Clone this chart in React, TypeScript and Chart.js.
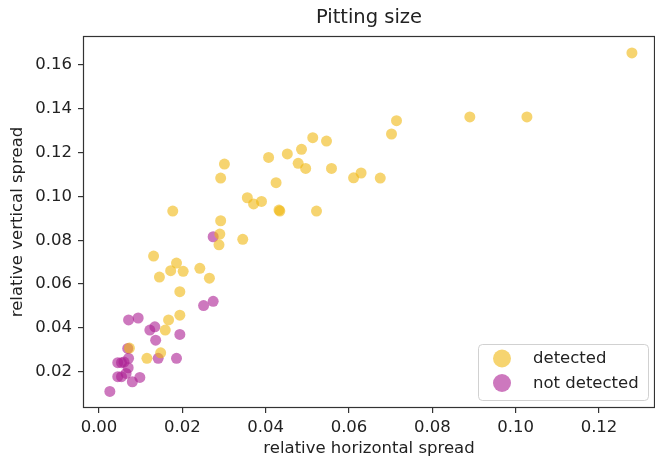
import React, { useEffect, useRef } from 'react';
import { Chart, registerables } from 'chart.js';

Chart.register(...registerables);

const chartTitle = 'Pitting size';
const xAxisTitle = 'relative horizontal spread';
const yAxisTitle = 'relative vertical spread';
const seriesLabels = ['detected', 'not detected'];

const detectedX = [
  0.1279, 0.1027, 0.0890, 0.0714, 0.0702, 0.0513, 0.0546, 0.0486, 0.0452, 0.0407,
  0.0478, 0.0496, 0.0558, 0.0611, 0.0629, 0.0675, 0.0425, 0.0356, 0.0371, 0.0390,
  0.0432, 0.0434, 0.0522, 0.0301, 0.0292, 0.0177, 0.0292, 0.0290, 0.0288, 0.0345,
  0.0131, 0.0186, 0.0172, 0.0202, 0.0145, 0.0242, 0.0265, 0.0194, 0.0194, 0.0167,
  0.0159, 0.0073, 0.0148, 0.0115,
];
const detectedY = [
  0.1655, 0.1363, 0.1363, 0.1346, 0.1285, 0.1268, 0.1253, 0.1215, 0.1194, 0.1178,
  0.1151, 0.1128, 0.1128, 0.1085, 0.1107, 0.1084, 0.1063, 0.0994, 0.0966, 0.0977,
  0.0938, 0.0933, 0.0933, 0.1148, 0.1084, 0.0933, 0.0889, 0.0828, 0.0779, 0.0804,
  0.0728, 0.0696, 0.0661, 0.0658, 0.0632, 0.0672, 0.0627, 0.0565, 0.0458, 0.0436,
  0.0390, 0.0308, 0.0286, 0.0261,
];

const notDetectedX = [
  0.0274, 0.0274, 0.0251, 0.0071, 0.0094, 0.0122, 0.0134, 0.0194, 0.0136, 0.0069,
  0.0071, 0.0142, 0.0186, 0.0045, 0.0054, 0.0060, 0.0070, 0.0065, 0.0045, 0.0054,
  0.0080, 0.0098, 0.0026,
];
const notDetectedY = [
  0.0816, 0.0521, 0.0502, 0.0436, 0.0445, 0.0390, 0.0405, 0.0370, 0.0344, 0.0306,
  0.0261, 0.0261, 0.0261, 0.0241, 0.0241, 0.0244, 0.0218, 0.0192, 0.0177, 0.0177,
  0.0154, 0.0174, 0.0110,
];

const xTicks = [0.0, 0.02, 0.04, 0.06, 0.08, 0.1, 0.12];
const yTicks = [0.02, 0.04, 0.06, 0.08, 0.1, 0.12, 0.14, 0.16];
const xRange = [-0.00384, 0.13344];
const yRange = [0.00342, 0.17324];

const FONT = 'DejaVu Sans';
const TEXT = '#222222';
const AXIS = '#333333';
const COLORS = ['rgba(240,183,17,0.6)', 'rgba(172,30,147,0.6)'];

const toPoints = (xs: number[], ys: number[]) => xs.map((x, i) => ({ x, y: ys[i] }));

const zeroPad = (s: any) => {
  s.paddingLeft = 0;
  s.paddingRight = 0;
  s.paddingTop = 0;
  s.paddingBottom = 0;
};

const framePlugin = {
  id: 'frameAndDecor',
  afterDraw(chart: any) {
    const { ctx, chartArea } = chart;
    const { left, right, top, bottom } = chartArea;
    ctx.save();
    // frame
    ctx.strokeStyle = AXIS;
    ctx.lineWidth = 1.2;
    ctx.strokeRect(left + 0.5, top + 0.5, right - left - 1, bottom - top - 1);
    // title
    ctx.fillStyle = TEXT;
    ctx.font = `19.5px "${FONT}"`;
    ctx.textAlign = 'center';
    ctx.textBaseline = 'middle';
    ctx.fillText(chartTitle, (left + right) / 2, 18);
    // legend
    const bw = 170;
    const bh = 56;
    const bx = right - 7 - bw;
    const by = bottom - 8 - bh;
    ctx.beginPath();
    ctx.roundRect(bx + 0.5, by + 0.5, bw, bh, 4);
    ctx.fillStyle = 'rgba(255,255,255,0.8)';
    ctx.fill();
    ctx.strokeStyle = 'rgba(204,204,204,0.9)';
    ctx.lineWidth = 1;
    ctx.stroke();
    const rows = [by + 14.5, by + 39];
    seriesLabels.forEach((lab, i) => {
      ctx.beginPath();
      ctx.arc(bx + 24, rows[i], 9, 0, Math.PI * 2);
      ctx.fillStyle = COLORS[i];
      ctx.fill();
      ctx.fillStyle = TEXT;
      ctx.font = `16.5px "${FONT}"`;
      ctx.textAlign = 'left';
      ctx.textBaseline = 'middle';
      ctx.fillText(lab, bx + 55, rows[i] + 0.5);
    });
    ctx.restore();
  },
};

export default function App() {
  const ref = useRef<HTMLCanvasElement | null>(null);

  useEffect(() => {
    if (!ref.current) return;
    const chart = new Chart(ref.current, {
      type: 'scatter',
      data: {
        datasets: [
          {
            label: seriesLabels[0],
            data: toPoints(detectedX, detectedY),
            backgroundColor: COLORS[0],
            borderWidth: 0,
            pointRadius: 5.5,
          },
          {
            label: seriesLabels[1],
            data: toPoints(notDetectedX, notDetectedY),
            backgroundColor: COLORS[1],
            borderWidth: 0,
            pointRadius: 5.5,
          },
        ],
      },
      options: {
        animation: false,
        responsive: false,
        devicePixelRatio: 1,
        events: [],
        layout: { autoPadding: false, padding: { top: 36, right: 0, left: 0, bottom: 0 } },
        plugins: {
          legend: { display: false },
          title: { display: false },
          tooltip: { enabled: false },
        },
        scales: {
          x: {
            type: 'linear',
            min: xRange[0],
            max: xRange[1],
            afterBuildTicks: (s: any) => {
              s.ticks = xTicks.map((v) => ({ value: v }));
            },
            afterFit: (s: any) => {
              s.height = 51;
              zeroPad(s);
            },
            border: { display: false },
            grid: {
              display: true,
              drawOnChartArea: false,
              drawTicks: true,
              tickLength: 5,
              color: AXIS,
              lineWidth: 1.2,
            },
            ticks: {
              padding: 5,
              color: TEXT,
              font: { family: FONT, size: 16.5 },
              maxRotation: 0,
              callback: (v: any) => Number(v).toFixed(2),
            },
            title: {
              display: true,
              text: xAxisTitle,
              color: TEXT,
              font: { family: FONT, size: 16.5 },
              padding: { top: 0, bottom: 0 },
            },
          },
          y: {
            type: 'linear',
            min: yRange[0],
            max: yRange[1],
            afterBuildTicks: (s: any) => {
              s.ticks = yTicks.map((v) => ({ value: v }));
            },
            afterFit: (s: any) => {
              s.width = 83;
              zeroPad(s);
            },
            border: { display: false },
            grid: {
              display: true,
              drawOnChartArea: false,
              drawTicks: true,
              tickLength: 5,
              color: AXIS,
              lineWidth: 1.2,
            },
            ticks: {
              padding: 6,
              color: TEXT,
              font: { family: FONT, size: 16.5 },
              callback: (v: any) => Number(v).toFixed(2),
            },
            title: {
              display: true,
              text: yAxisTitle,
              color: TEXT,
              font: { family: FONT, size: 16.5 },
              padding: { top: 8, bottom: 0 },
            },
          },
        },
      },
      plugins: [framePlugin],
    });
    return () => chart.destroy();
  }, []);

  return (
    <div style={{ position: 'fixed', left: 0, top: 0, width: 655, height: 459, background: '#fff' }}>
      <canvas ref={ref} width={655} height={459} style={{ display: 'block' }} />
    </div>
  );
}
